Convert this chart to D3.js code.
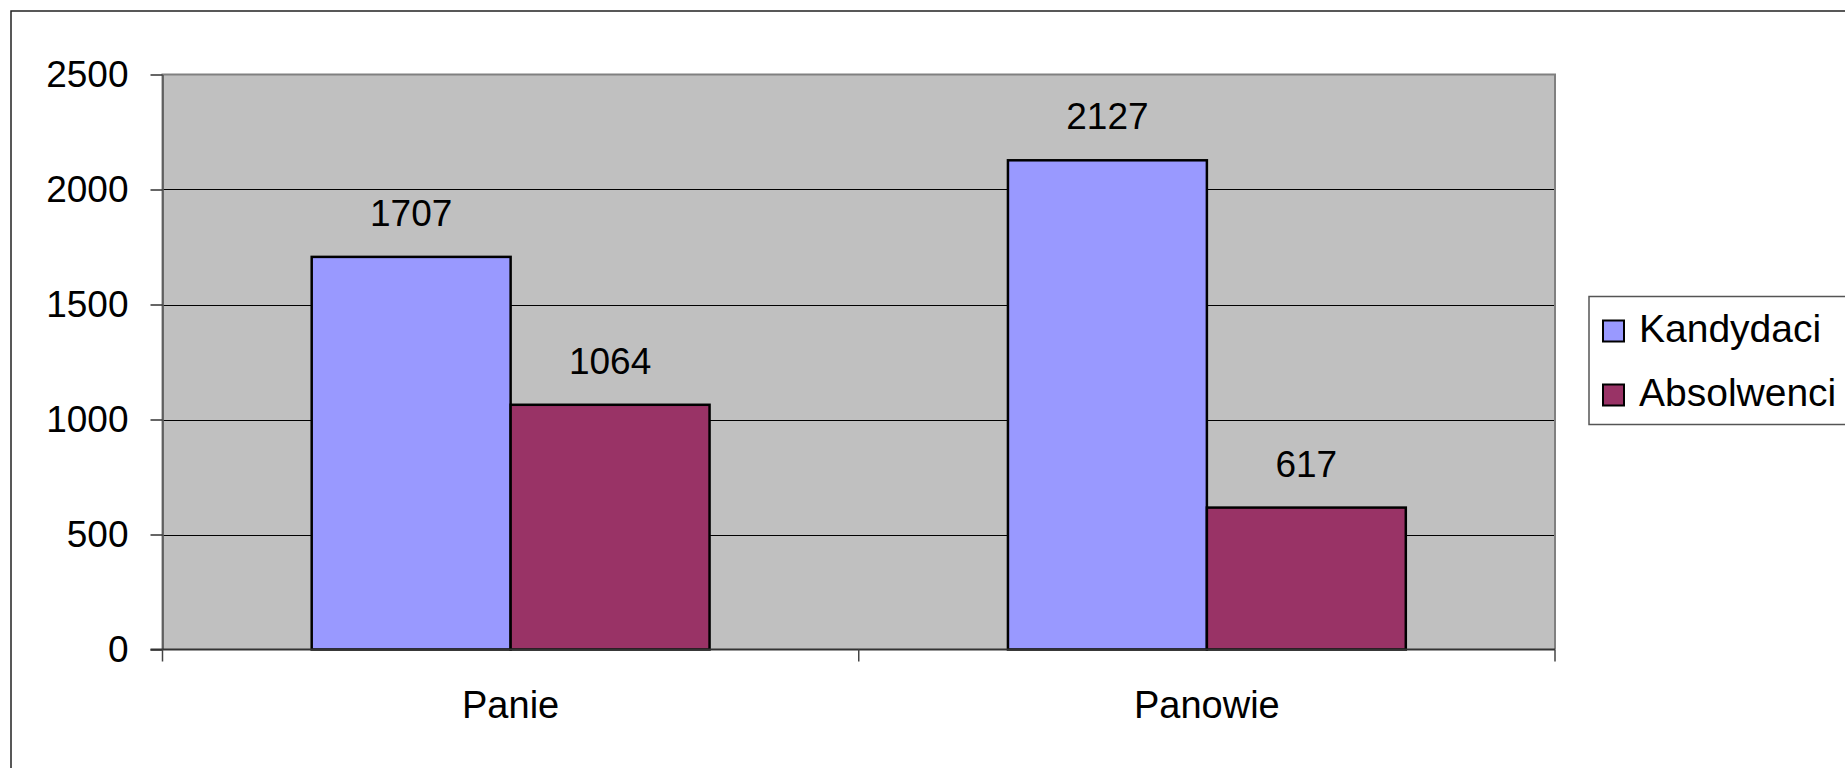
<!DOCTYPE html>
<html>
<head>
<meta charset="utf-8">
<script src="https://cdn.jsdelivr.net/npm/d3@7"></script>
<style>
  html, body { margin: 0; padding: 0; background: #fff; }
  svg { display: block; font-family: "Liberation Sans", Arial, sans-serif; }
</style>
</head>
<body>
<svg id="chart" width="1845" height="768"></svg>
<script>
const categories = ["Panie", "Panowie"];
const seriesNames = ["Kandydaci", "Absolwenci"];
const kandydaci = [1707, 2127];
const absolwenci = [1064, 617];
const yTicks = [0, 500, 1000, 1500, 2000, 2500];
const colors = ["#9999FF", "#993366"];

const seriesValues = [kandydaci, absolwenci];
const svg = d3.select("#chart");

const plot = { left: 162.5, right: 1555, top: 74.5, bottom: 649.5 };

// outer frame (only left/top visible)
svg.append("rect")
  .attr("x", 11).attr("y", 11).attr("width", 2000).attr("height", 2000)
  .attr("fill", "none").attr("stroke", "#222").attr("stroke-width", 1.5);

const x0 = d3.scaleBand().domain(categories).range([plot.left, plot.right]).padding(0);
const x1 = d3.scaleBand().domain(seriesNames).range([0, x0.bandwidth()])
  .paddingInner(0).paddingOuter(0.75);
const y = d3.scaleLinear().domain([0, 2500]).range([plot.bottom, plot.top]);

// plot background
svg.append("rect")
  .attr("x", plot.left).attr("y", plot.top)
  .attr("width", plot.right - plot.left).attr("height", plot.bottom - plot.top)
  .attr("fill", "#C0C0C0");

// gridlines
svg.append("g").selectAll("line")
  .data(yTicks.filter(d => d > 0 && d < 2500))
  .join("line")
  .attr("x1", plot.left).attr("x2", plot.right)
  .attr("y1", d => Math.round(y(d)) + 0.5).attr("y2", d => Math.round(y(d)) + 0.5)
  .attr("stroke", "#000").attr("stroke-width", 1);

// plot border (gray)
svg.append("path")
  .attr("d", `M${plot.left},${plot.bottom} V${plot.top} H${plot.right} V${plot.bottom}`)
  .attr("fill", "none").attr("stroke", "#808080").attr("stroke-width", 2);

const rows = (c, i) => seriesNames.map((s, j) => ({ s, j, v: seriesValues[j][i] }));

// bars
const groups = svg.append("g").selectAll("g")
  .data(categories)
  .join("g")
  .attr("transform", d => `translate(${x0(d)},0)`);

groups.selectAll("rect")
  .data(rows)
  .join("rect")
  .attr("x", d => x1(d.s))
  .attr("y", d => y(d.v))
  .attr("width", x1.bandwidth())
  .attr("height", d => y(0) - y(d.v))
  .attr("fill", d => colors[d.j])
  .attr("stroke", "#000").attr("stroke-width", 2.5);

groups.selectAll("text")
  .data(rows)
  .join("text")
  .attr("x", d => x1(d.s) + x1.bandwidth() / 2)
  .attr("y", d => y(d.v) - 31)
  .attr("text-anchor", "middle")
  .attr("font-size", 37)
  .attr("fill", "#000")
  .text(d => String(d.v));

// y axis
const yAxis = d3.axisLeft(y).tickValues(yTicks).tickFormat(d3.format("d"))
  .tickSize(12).tickPadding(22).tickSizeOuter(0);
const gy = svg.append("g").attr("transform", `translate(${plot.left},0)`).call(yAxis);
gy.select(".domain").attr("stroke", "#555").attr("stroke-width", 1.5);
gy.selectAll(".tick line").attr("stroke", "#333").attr("stroke-width", 1.5);
gy.selectAll(".tick text").attr("font-size", 37).attr("fill", "#000")
  .attr("font-family", "'Liberation Sans', Arial, sans-serif");

// x axis line
svg.append("line")
  .attr("x1", plot.left - 12).attr("x2", plot.right)
  .attr("y1", plot.bottom).attr("y2", plot.bottom)
  .attr("stroke", "#333").attr("stroke-width", 2);

// x boundary ticks
const bounds = [x0(categories[0])].concat(categories.map(c => x0(c) + x0.bandwidth()));
svg.append("g").selectAll("line")
  .data(bounds)
  .join("line")
  .attr("x1", d => d).attr("x2", d => d)
  .attr("y1", plot.bottom).attr("y2", plot.bottom + 12)
  .attr("stroke", "#444").attr("stroke-width", 1.5);

// category labels
svg.append("g").selectAll("text")
  .data(categories)
  .join("text")
  .attr("x", d => x0(d) + x0.bandwidth() / 2)
  .attr("y", plot.bottom + 68.5)
  .attr("text-anchor", "middle")
  .attr("font-size", 38)
  .attr("fill", "#000")
  .text(d => d);

// legend
const legend = svg.append("g");
legend.append("rect")
  .attr("x", 1589).attr("y", 296.5).attr("width", 300).attr("height", 128)
  .attr("fill", "#fff").attr("stroke", "#555").attr("stroke-width", 1.5);
const items = legend.selectAll("g.item")
  .data(seriesNames)
  .join("g").attr("class", "item")
  .attr("transform", (d, i) => `translate(0,${i * 64})`);
items.append("rect")
  .attr("x", 1603).attr("y", 320.5).attr("width", 21).attr("height", 21)
  .attr("fill", (d, i) => colors[i]).attr("stroke", "#000").attr("stroke-width", 2);
items.append("text")
  .attr("x", 1639).attr("y", 341.5)
  .attr("font-size", 39).attr("fill", "#000")
  .text(d => d);
</script>
</body>
</html>
